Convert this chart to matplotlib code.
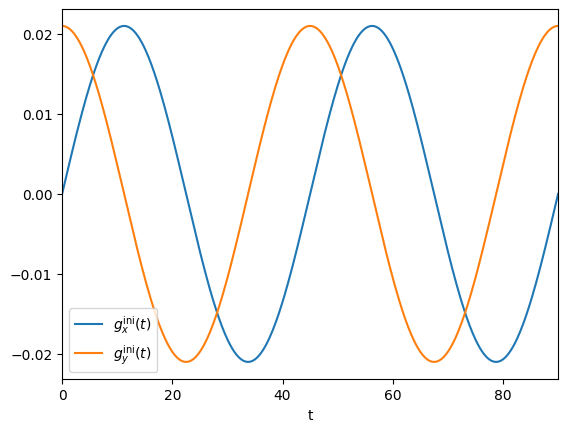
import numpy as np
import matplotlib.pyplot as plt
from matplotlib.ticker import MultipleLocator

# values
amplitude = 0.021      # peak height of both curves
period = 45.0          # one full oscillation in t
t_start, t_end = 0.0, 90.0
n_samples = 500

t = np.linspace(t_start, t_end, n_samples)
gx = amplitude * np.sin(2 * np.pi * t / period)
gy = amplitude * np.cos(2 * np.pi * t / period)

fig, ax = plt.subplots()
ax.plot(t, gx, label=r'$g_x^{\mathrm{ini}}(t)$')
ax.plot(t, gy, label=r'$g_y^{\mathrm{ini}}(t)$')
ax.set_xlim(t_start, t_end)
ax.xaxis.set_major_locator(MultipleLocator(20))
ax.set_xlabel('t')
ax.legend(loc='lower left')

plt.savefig('out.png', bbox_inches='tight')
